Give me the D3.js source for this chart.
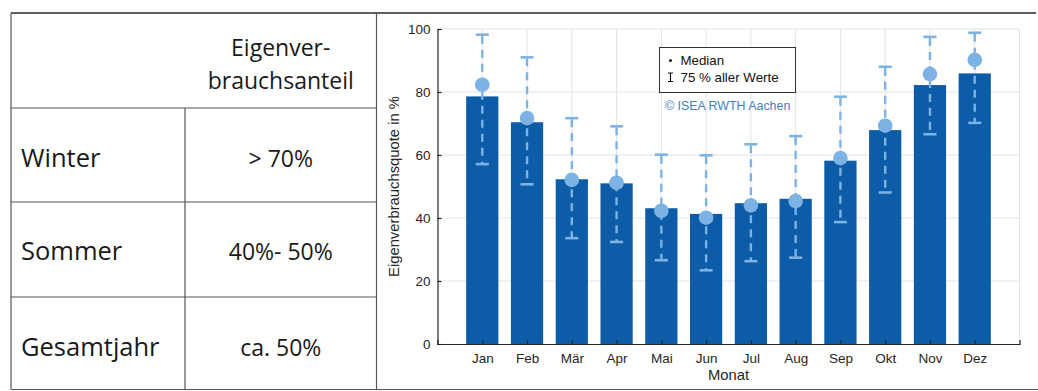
<!DOCTYPE html>
<html>
<head>
<meta charset="utf-8">
<script src="https://cdn.jsdelivr.net/npm/d3@7"></script>
<style>
  html, body { margin: 0; padding: 0; background: #ffffff; }
  svg { display: block; }
</style>
</head>
<body>
<svg id="chart" width="1038" height="391"></svg>
<script>
// ---------- data ----------
const months = ["Jan", "Feb", "Mär", "Apr", "Mai", "Jun", "Jul", "Aug", "Sep", "Okt", "Nov", "Dez"];
const barValues    = [78.6, 70.4, 52.3, 51.0, 43.1, 41.3, 44.7, 46.1, 58.2, 67.9, 82.2, 85.9];
const medianValues = [82.3, 71.7, 52.1, 51.2, 42.3, 40.1, 44.0, 45.4, 59.0, 69.3, 85.7, 90.2];
const upperValues  = [98.2, 91.0, 71.7, 69.1, 60.1, 59.9, 63.4, 66.0, 78.5, 88.0, 97.5, 98.8];
const lowerValues  = [57.1, 50.7, 33.6, 32.4, 26.6, 23.4, 26.3, 27.4, 38.7, 48.1, 66.6, 70.2];
const yTicks = [0, 20, 40, 60, 80, 100];
const yLabel = "Eigenverbrauchsquote in %";
const xLabel = "Monat";
const legendLabels = ["Median", "75 % aller Werte"];
const copyright = "© ISEA RWTH Aachen";

const headerLines = ["Eigenver-", "brauchsanteil"];
const tableRows = ["Winter", "Sommer", "Gesamtjahr"];
const tableValues = ["> 70%", "40%- 50%", "ca. 50%"];

// ---------- setup ----------
const svg = d3.select("#chart");
const barColor = "#0d5ca8";
const lightColor = "#7db2e4";
const gridColor = "#e3e3e3";
const chartFont = "'Liberation Sans', Arial, Helvetica, sans-serif";
const tableFont = "'Open Sans', 'Noto Sans', sans-serif";

// ---------- table ----------
const T = { left: 11, right: 376.5, mid: 185, top: 13, header: 108, rows: [108, 202, 297, 389.5] };
const tbl = svg.append("g");
const lineCol = "#555";
// outer top and bottom lines
tbl.append("line").attr("x1", T.left).attr("x2", 1036).attr("y1", T.top).attr("y2", T.top)
  .attr("stroke", "#2a2a2a").attr("stroke-width", 1.4);
tbl.append("line").attr("x1", T.left).attr("x2", 1038).attr("y1", 389.5).attr("y2", 389.5)
  .attr("stroke", lineCol).attr("stroke-width", 1.2);
// verticals
tbl.append("line").attr("x1", T.left).attr("x2", T.left).attr("y1", T.top).attr("y2", 389.5)
  .attr("stroke", lineCol).attr("stroke-width", 1.2);
tbl.append("line").attr("x1", T.right).attr("x2", T.right).attr("y1", T.top).attr("y2", 389.5)
  .attr("stroke", lineCol).attr("stroke-width", 1.2);
tbl.append("line").attr("x1", T.mid).attr("x2", T.mid).attr("y1", T.header).attr("y2", 389.5)
  .attr("stroke", lineCol).attr("stroke-width", 1.2);
// horizontals
[108, 202, 297].forEach(y => {
  tbl.append("line").attr("x1", T.left).attr("x2", T.right).attr("y1", y).attr("y2", y)
    .attr("stroke", lineCol).attr("stroke-width", 1.2);
});
// header text
const colCenter = (T.mid + T.right) / 2;
headerLines.forEach((t, i) => {
  tbl.append("text").attr("x", colCenter).attr("y", 56 + i * 32.5)
    .attr("text-anchor", "middle").attr("font-family", tableFont).attr("font-size", 23)
    .attr("fill", "#1a1a1a").text(t);
});
const rowBase = [166.5, 260, 355.5];
tableRows.forEach((t, i) => {
  tbl.append("text").attr("x", 21).attr("y", rowBase[i])
    .attr("font-family", tableFont).attr("font-size", 25.5).attr("fill", "#1a1a1a").text(t);
  tbl.append("text").attr("x", colCenter).attr("y", rowBase[i])
    .attr("text-anchor", "middle").attr("font-family", tableFont).attr("font-size", 23)
    .attr("fill", "#1a1a1a").text(tableValues[i]);
});

// ---------- chart ----------
const x = d3.scaleLinear().domain([0, months.length + 1]).range([437.5, 1019.5]);
const y = d3.scaleLinear().domain([0, 100]).range([344, 29]);
const step = x(1) - x(0);
const barW = step * 0.72;

const g = svg.append("g");

// grid
g.append("g").selectAll("line.h").data(yTicks.slice(1)).join("line")
  .attr("x1", x(0)).attr("x2", x(13)).attr("y1", d => y(d)).attr("y2", d => y(d))
  .attr("stroke", gridColor).attr("stroke-width", 1);
g.append("g").selectAll("line.v").data(months.map((m, i) => i + 1).concat([13])).join("line")
  .attr("x1", d => x(d)).attr("x2", d => x(d)).attr("y1", y(0)).attr("y2", y(100))
  .attr("stroke", gridColor).attr("stroke-width", 1);

// bars
g.append("g").selectAll("rect").data(barValues).join("rect")
  .attr("x", (d, i) => x(i + 1) - barW / 2)
  .attr("width", barW)
  .attr("y", d => y(d))
  .attr("height", d => y(0) - y(d))
  .attr("fill", barColor);

// axes
const xAxis = d3.axisBottom(x)
  .tickValues(months.map((m, i) => i + 1))
  .tickFormat((d) => months[d - 1])
  .tickSizeInner(-4).tickSizeOuter(-4).tickPadding(9);
const xg = g.append("g").attr("transform", `translate(0,${y(0)})`).call(xAxis);
xg.selectAll("text").attr("font-family", chartFont).attr("font-size", 13.5).attr("fill", "#262626");
xg.selectAll("line, path").attr("stroke", "#262626").attr("stroke-width", 1.2);

const yAxis = d3.axisLeft(y).tickValues(yTicks).tickSizeInner(-4).tickSizeOuter(-4).tickPadding(7);
const yg = g.append("g").attr("transform", `translate(${x(0)},0)`).call(yAxis);
yg.selectAll("text").attr("font-family", chartFont).attr("font-size", 13.5).attr("fill", "#262626");
yg.selectAll("line, path").attr("stroke", "#262626").attr("stroke-width", 1.2);

// error bars
const eb = g.append("g");
eb.selectAll("line.err").data(months).join("line")
  .attr("x1", (d, i) => x(i + 1)).attr("x2", (d, i) => x(i + 1))
  .attr("y1", (d, i) => y(upperValues[i]) + 1).attr("y2", (d, i) => y(lowerValues[i]) - 1)
  .attr("stroke", lightColor).attr("stroke-width", 2.4).attr("stroke-dasharray", "8,6");
const capW = 13;
eb.selectAll("line.capU").data(months).join("line")
  .attr("x1", (d, i) => x(i + 1) - capW / 2).attr("x2", (d, i) => x(i + 1) + capW / 2)
  .attr("y1", (d, i) => y(upperValues[i])).attr("y2", (d, i) => y(upperValues[i]))
  .attr("stroke", lightColor).attr("stroke-width", 2.6);
eb.selectAll("line.capL").data(months).join("line")
  .attr("x1", (d, i) => x(i + 1) - capW / 2).attr("x2", (d, i) => x(i + 1) + capW / 2)
  .attr("y1", (d, i) => y(lowerValues[i])).attr("y2", (d, i) => y(lowerValues[i]))
  .attr("stroke", lightColor).attr("stroke-width", 2.6);
eb.selectAll("circle").data(medianValues).join("circle")
  .attr("cx", (d, i) => x(i + 1)).attr("cy", d => y(d)).attr("r", 7.3)
  .attr("fill", lightColor);

// axis labels
g.append("text").attr("transform", `translate(399,${(y(0) + y(100)) / 2}) rotate(-90)`)
  .attr("text-anchor", "middle").attr("font-family", chartFont).attr("font-size", 14.8)
  .attr("fill", "#262626").text(yLabel);
g.append("text").attr("x", (x(0) + x(13)) / 2).attr("y", 380)
  .attr("text-anchor", "middle").attr("font-family", chartFont).attr("font-size", 14.8)
  .attr("fill", "#262626").text(xLabel);

// legend
const lg = g.append("g");
lg.append("rect").attr("x", 659.5).attr("y", 47.5).attr("width", 136).attr("height", 45)
  .attr("fill", "#fff").attr("stroke", "#333").attr("stroke-width", 1);
lg.append("circle").attr("cx", 670.5).attr("cy", 60.5).attr("r", 1.5).attr("fill", "#111");
lg.append("path").attr("d", "M668,73 H673 M670.5,73 V81.5 M668,81.5 H673")
  .attr("stroke", "#111").attr("stroke-width", 1.1).attr("fill", "none");
legendLabels.forEach((t, i) => {
  lg.append("text").attr("x", 680.5).attr("y", 65 + i * 16.7)
    .attr("font-family", chartFont).attr("font-size", 13.3).attr("fill", "#111").text(t);
});
g.append("text").attr("x", 665).attr("y", 109.5)
  .attr("font-family", chartFont).attr("font-size", 12.4).attr("fill", "#3f7fc6").text(copyright);
</script>
</body>
</html>
